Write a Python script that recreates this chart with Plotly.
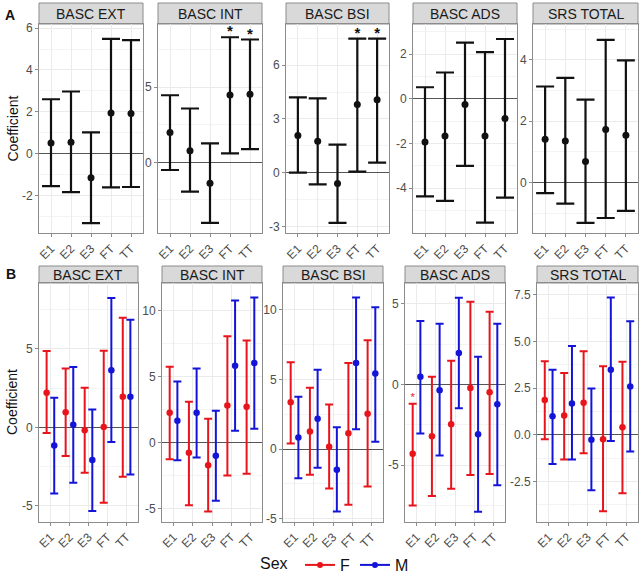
import plotly.graph_objects as go

W, H = 641, 583

categories = ["E1", "E2", "E3", "FT", "TT"]
outcomes = ["BASC EXT", "BASC INT", "BASC BSI", "BASC ADS", "SRS TOTAL"]

# ---- Panel A: overall estimates ----
a_est = {
    "BASC EXT": [0.51, 0.54, -1.16, 1.94, 1.92],
    "BASC INT": [1.99, 0.77, -1.39, 4.48, 4.52],
    "BASC BSI": [2.07, 1.76, -0.61, 3.80, 4.07],
    "BASC ADS": [-1.93, -1.66, -0.25, -1.66, -0.88],
    "SRS TOTAL": [1.41, 1.35, 0.68, 1.73, 1.54],
}
a_low = {
    "BASC EXT": [-1.56, -1.84, -3.33, -1.62, -1.60],
    "BASC INT": [-0.51, -1.95, -4.02, 0.60, 0.88],
    "BASC BSI": [0.00, -0.65, -2.81, 0.06, 0.56],
    "BASC ADS": [-4.36, -4.56, -3.00, -5.54, -4.42],
    "SRS TOTAL": [-0.35, -0.69, -1.32, -1.16, -0.93],
}
a_high = {
    "BASC EXT": [2.60, 2.97, 1.01, 5.49, 5.43],
    "BASC INT": [4.46, 3.58, 1.26, 8.32, 8.17],
    "BASC BSI": [4.20, 4.15, 1.56, 7.48, 7.48],
    "BASC ADS": [0.52, 1.18, 2.52, 2.09, 2.68],
    "SRS TOTAL": [3.13, 3.41, 2.70, 4.65, 3.98],
}
a_signif = [("BASC INT", "FT"), ("BASC INT", "TT"), ("BASC BSI", "FT"), ("BASC BSI", "TT")]

# ---- Panel B: by sex ----
sexes = ["F", "M"]
b_est_F = {
    "BASC EXT": [2.20, 0.96, -0.19, 0.02, 1.95],
    "BASC INT": [2.23, -0.79, -1.74, 2.79, 2.69],
    "BASC BSI": [3.37, 1.26, 0.17, 1.14, 2.55],
    "BASC ADS": [-4.30, -3.21, -2.47, -0.21, -0.48],
    "SRS TOTAL": [1.86, 1.03, 1.72, -0.24, 0.40],
}
b_low_F = {
    "BASC EXT": [-0.36, -1.82, -2.89, -4.80, -3.15],
    "BASC INT": [-1.28, -4.76, -5.24, -2.51, -2.38],
    "BASC BSI": [0.41, -1.84, -2.82, -4.00, -2.69],
    "BASC ADS": [-7.50, -6.92, -6.46, -5.62, -5.56],
    "SRS TOTAL": [-0.24, -1.32, -0.99, -4.10, -3.13],
}
b_high_F = {
    "BASC EXT": [4.86, 3.75, 2.53, 4.88, 6.98],
    "BASC INT": [5.73, 3.07, 1.79, 8.03, 7.72],
    "BASC BSI": [6.24, 4.42, 3.20, 6.19, 7.82],
    "BASC ADS": [-1.19, 0.48, 1.47, 5.14, 4.51],
    "SRS TOTAL": [3.94, 3.31, 4.48, 3.67, 3.92],
}
b_est_M = {
    "BASC EXT": [-1.16, 0.17, -2.08, 3.64, 1.95],
    "BASC INT": [1.64, 2.23, -1.02, 5.80, 6.01],
    "BASC BSI": [0.83, 2.18, -1.48, 6.19, 5.44],
    "BASC ADS": [0.48, -0.36, 1.95, -3.08, -1.22],
    "SRS TOTAL": [0.99, 1.68, -0.27, 3.49, 2.59],
}
b_low_M = {
    "BASC EXT": [-4.22, -3.53, -5.33, -0.94, -3.00],
    "BASC INT": [-1.36, -1.15, -4.42, 0.87, 1.02],
    "BASC BSI": [-2.09, -1.33, -4.49, 1.43, 0.53],
    "BASC ADS": [-3.04, -4.40, -1.47, -7.90, -6.25],
    "SRS TOTAL": [-1.57, -1.32, -2.98, -0.33, -0.90],
}
b_high_M = {
    "BASC EXT": [1.88, 3.85, 1.13, 8.24, 6.85],
    "BASC INT": [4.60, 5.60, 2.40, 10.74, 10.97],
    "BASC BSI": [3.76, 5.70, 1.58, 10.90, 10.19],
    "BASC ADS": [3.94, 3.77, 5.39, 1.72, 3.77],
    "SRS TOTAL": [3.49, 4.76, 2.48, 7.36, 6.09],
}
b_signif = [("BASC ADS", "E1", "F")]

# y tick values per panel
a_ticks = {
    "BASC EXT": [-2, 0, 2, 4, 6],
    "BASC INT": [0, 5],
    "BASC BSI": [-3, 0, 3, 6],
    "BASC ADS": [-4, -2, 0, 2],
    "SRS TOTAL": [0, 2, 4],
}
b_ticks = {
    "BASC EXT": [-5, 0, 5],
    "BASC INT": [-5, 0, 5, 10],
    "BASC BSI": [-5, 0, 5, 10],
    "BASC ADS": [-5, 0, 5],
    "SRS TOTAL": [-2.5, 0.0, 2.5, 5.0, 7.5],
}

# ---- layout geometry (pixels) ----
a_ranges = {
    "BASC EXT": [-3.8, 6.2], "BASC INT": [-4.7, 9.2], "BASC BSI": [-3.37, 8.3],
    "BASC ADS": [-6.0, 3.35], "SRS TOTAL": [-1.65, 5.17],
}
b_ranges = {
    "BASC EXT": [-6.0, 9.2], "BASC INT": [-6.0, 12.07], "BASC BSI": [-5.2, 11.94],
    "BASC ADS": [-8.5, 6.3], "SRS TOTAL": [-4.65, 8.14],
}
a_xpx = [(39, 143), (158, 262), (286, 389), (413, 517), (533, 638)]
b_xpx = [(39, 138), (162, 262), (283, 383), (405, 505), (537, 638)]
a_ypx = (24, 233)
a_strip = (3, 24)
b_ypx = (283, 521.5)
b_strip = (266, 283)

RED = "#e8141c"
BLUE = "#1414d8"
BLACK = "#111111"
FONT = "Liberation Sans, Arial, sans-serif"

fig = go.Figure()
layout = dict()
shapes = []
annotations = []

def px2x(p):
    return p / W

def px2y(p):
    return 1 - p / H

def fmt(v, dec):
    return f"{v:.{dec}f}"

idx = 0
for row in range(2):
    for j, oc in enumerate(outcomes):
        idx += 1
        xa = f"xaxis{idx if idx > 1 else ''}"
        ya = f"yaxis{idx if idx > 1 else ''}"
        xr = f"x{idx if idx > 1 else ''}"
        yr = f"y{idx if idx > 1 else ''}"
        if row == 0:
            (x0, x1), (y0, y1), (s0, s1) = a_xpx[j], a_ypx, a_strip
            rng, tv = a_ranges[oc], a_ticks[oc]
            dec = 0
        else:
            (x0, x1), (y0, y1), (s0, s1) = b_xpx[j], b_ypx, b_strip
            rng, tv = b_ranges[oc], b_ticks[oc]
            dec = 1 if oc == "SRS TOTAL" else 0
        step = tv[1] - tv[0]
        unit_px = (y1 - y0) / (rng[1] - rng[0])
        layout[xa] = dict(
            domain=[px2x(x0), px2x(x1)], anchor=yr, range=[0.4, 5.6],
            tickvals=[1, 2, 3, 4, 5], ticktext=categories, tickangle=-45,
            showgrid=True, gridcolor="#ebebeb", gridwidth=1, zeroline=False,
            showline=True, mirror=True, linecolor="#8c8c8c", linewidth=1,
            ticks="outside", ticklen=3, tickcolor="#8c8c8c",
            tickfont=dict(size=12, color="#4d4d4d", family=FONT),
            automargin=False, fixedrange=True,
        )
        layout[ya] = dict(
            domain=[px2y(y1), px2y(y0)], anchor=xr, range=rng,
            tickvals=tv, ticktext=[fmt(v, dec) for v in tv],
            showgrid=True, gridcolor="#ebebeb", gridwidth=1,
            minor=dict(tickvals=[v + step / 2 for v in [tv[0] - step] + tv],
                       showgrid=True, gridcolor="#f4f4f4", ticks=""),
            zeroline=True, zerolinecolor="#555555", zerolinewidth=1,
            showline=True, mirror=True, linecolor="#8c8c8c", linewidth=1,
            ticks="outside", ticklen=3, tickcolor="#8c8c8c",
            tickfont=dict(size=12, color="#4d4d4d", family=FONT),
            automargin=False, fixedrange=True,
        )
        # strip
        shapes.append(dict(type="rect", xref="paper", yref="paper",
                           x0=px2x(x0), x1=px2x(x1), y0=px2y(s1), y1=px2y(s0),
                           fillcolor="#d9d9d9", line=dict(color="#8c8c8c", width=1),
                           layer="below"))
        annotations.append(dict(xref="paper", yref="paper", x=px2x((x0 + x1) / 2),
                                y=px2y((s0 + s1) / 2), text=oc, showarrow=False,
                                xanchor="center", yanchor="middle",
                                font=dict(size=14, color="#1a1a1a", family=FONT)))

        xs = [i + 1 for i in range(len(categories))]
        if row == 0:
            est, lo, hi = a_est[oc], a_low[oc], a_high[oc]
            fig.add_trace(go.Scatter(
                x=xs, y=est, mode="markers", xaxis=xr, yaxis=yr, showlegend=False,
                marker=dict(color=BLACK, size=7),
                error_y=dict(type="data", symmetric=False,
                             array=[h - e for h, e in zip(hi, est)],
                             arrayminus=[e - l for e, l in zip(est, lo)],
                             color=BLACK, thickness=2.2, width=9),
            ))
            sx = [categories.index(c) + 1 for o, c in a_signif if o == oc]
            sy = [hi[categories.index(c)] + 4.5 / unit_px for o, c in a_signif if o == oc]
            if sx:
                fig.add_trace(go.Scatter(
                    x=sx, y=sy, mode="text", text=["<b>*</b>"] * len(sx),
                    textposition="middle center", xaxis=xr, yaxis=yr, showlegend=False,
                    textfont=dict(size=15, color=BLACK, family=FONT)))
        else:
            for sex, col, off in [("F", RED, -0.2), ("M", BLUE, 0.2)]:
                est = (b_est_F if sex == "F" else b_est_M)[oc]
                lo = (b_low_F if sex == "F" else b_low_M)[oc]
                hi = (b_high_F if sex == "F" else b_high_M)[oc]
                fig.add_trace(go.Scatter(
                    x=[x + off for x in xs], y=est, mode="markers", xaxis=xr, yaxis=yr,
                    showlegend=False, marker=dict(color=col, size=6.5),
                    error_y=dict(type="data", symmetric=False,
                                 array=[h - e for h, e in zip(hi, est)],
                                 arrayminus=[e - l for e, l in zip(est, lo)],
                                 color=col, thickness=2, width=4),
                ))
                sx = [categories.index(c) + 1 + off for o, c, s in b_signif if o == oc and s == sex]
                sy = [hi[categories.index(c)] + 5.0 / unit_px for o, c, s in b_signif if o == oc and s == sex]
                if sx:
                    fig.add_trace(go.Scatter(
                        x=sx, y=sy, mode="text", text=["*"] * len(sx),
                        textposition="middle center", xaxis=xr, yaxis=yr, showlegend=False,
                        textfont=dict(size=11, color=col, family=FONT)))

# legend entries
for sex, col in [("F", RED), ("M", BLUE)]:
    fig.add_trace(go.Scatter(x=[None], y=[None], mode="lines+markers", name=sex,
                             line=dict(color=col, width=2), marker=dict(color=col, size=6),
                             xaxis="x", yaxis="y"))

# titles / labels
annotations.append(dict(xref="paper", yref="paper", x=px2x(12), y=px2y(128.5),
                        text="Coefficient", textangle=-90, showarrow=False,
                        xanchor="center", yanchor="middle",
                        font=dict(size=14, color="#111", family=FONT)))
annotations.append(dict(xref="paper", yref="paper", x=px2x(12), y=px2y(402),
                        text="Coefficient", textangle=-90, showarrow=False,
                        xanchor="center", yanchor="middle",
                        font=dict(size=14, color="#111", family=FONT)))
annotations.append(dict(xref="paper", yref="paper", x=px2x(10), y=px2y(15),
                        text="<b>A</b>", showarrow=False, xanchor="center", yanchor="middle",
                        font=dict(size=14, color="#111", family=FONT)))
annotations.append(dict(xref="paper", yref="paper", x=px2x(11), y=px2y(274),
                        text="<b>B</b>", showarrow=False, xanchor="center", yanchor="middle",
                        font=dict(size=14, color="#111", family=FONT)))

fig.update_layout(
    width=W, height=H, template="none",
    margin=dict(l=0, r=0, t=0, b=0, autoexpand=False),
    paper_bgcolor="white", plot_bgcolor="white",
    shapes=shapes, annotations=annotations,
    showlegend=True, hovermode=False,
    legend=dict(orientation="h", x=px2x(336), y=px2y(565), xanchor="center", yanchor="middle",
                title=dict(text="Sex ", font=dict(size=16, color="#111", family=FONT)),
                font=dict(size=16, color="#111", family=FONT),
                itemwidth=30, tracegroupgap=0, bgcolor="rgba(0,0,0,0)"),
    **layout,
)

fig.write_html(
    "out.html",
    config={"displayModeBar": False, "staticPlot": False},
    post_script="document.body.style.margin='0px';document.body.style.overflow='hidden';",
)
